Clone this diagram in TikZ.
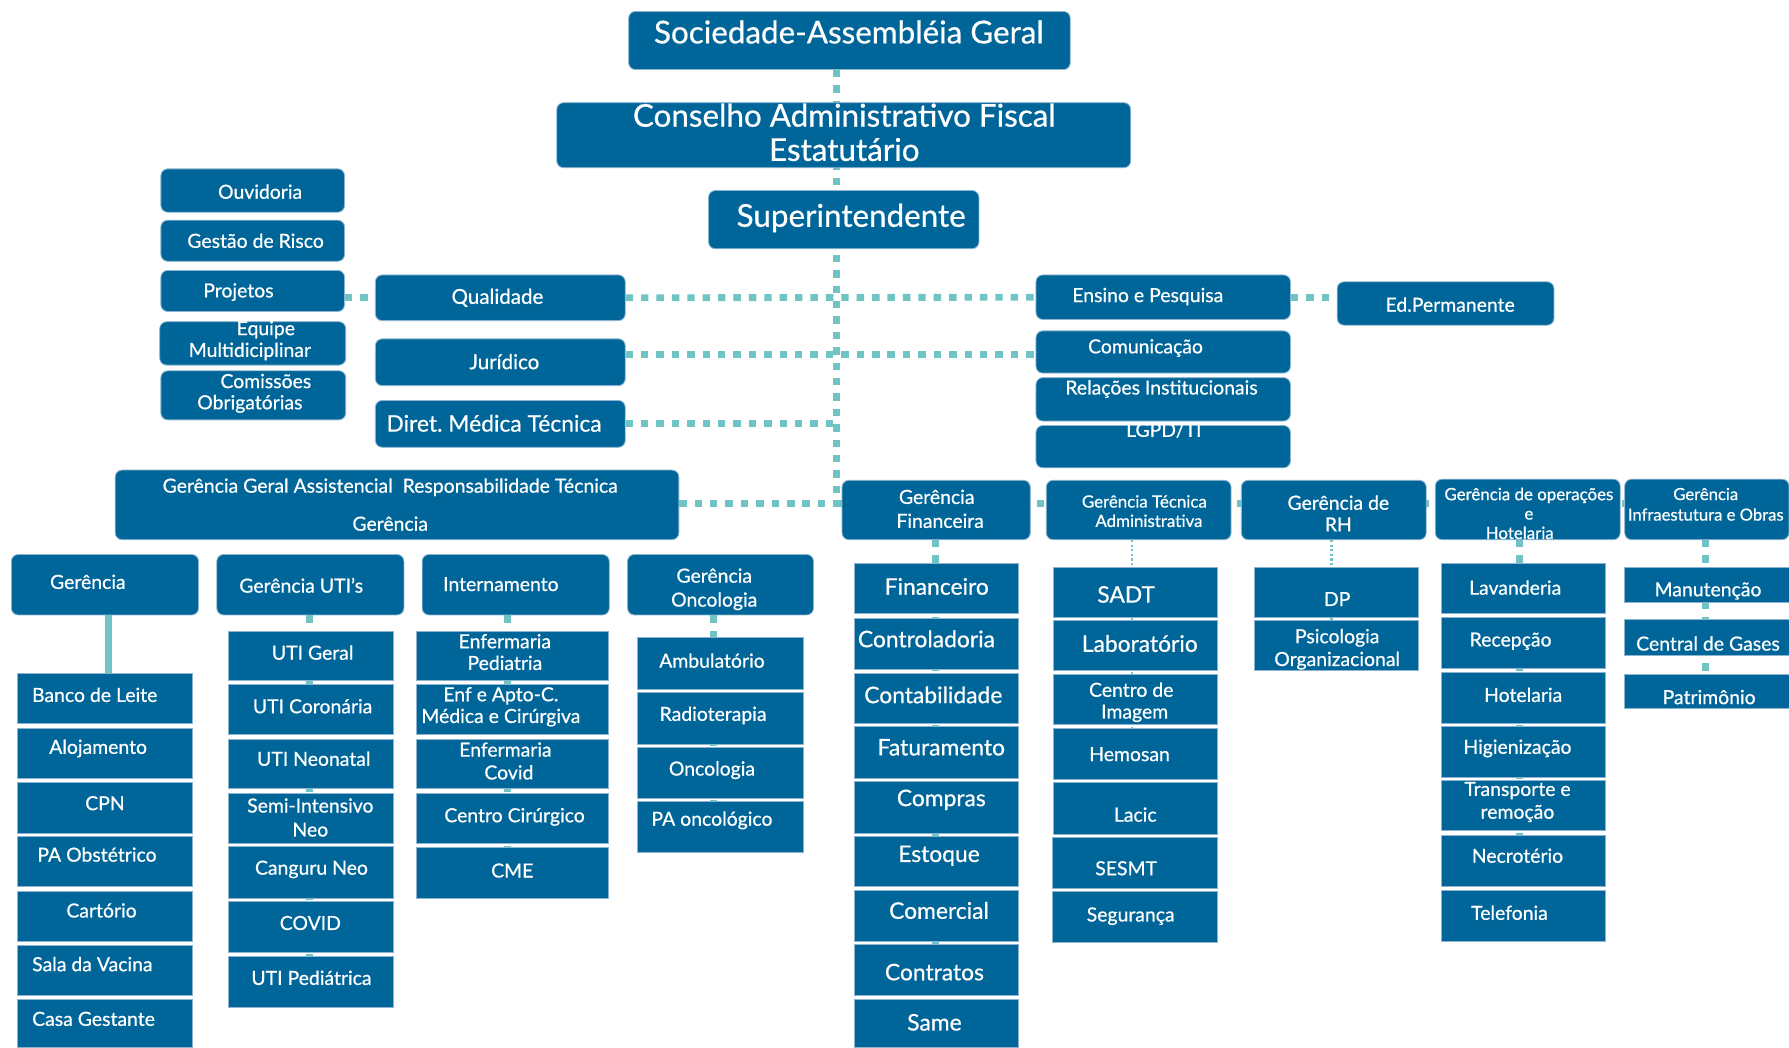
\documentclass[tikz,border=0pt]{standalone}
\usepackage{fontspec}
\setmainfont{Lato}[FakeBold=0.6]
\usetikzlibrary{fit}
\frenchspacing
\definecolor{boxblue}{RGB}{0,102,154}
\definecolor{tealc}{RGB}{111,196,198}
\definecolor{edgec}{RGB}{140,180,208}
\pgfdeclarelayer{back}
\pgfdeclarelayer{bg}
\pgfsetlayers{back,bg,main}
\newcommand\fs[2]{\fontsize{#1}{#2}\selectfont}
\tikzset{
 rbox/.style={fill=boxblue, draw=edgec, line width=0.7pt, rounded corners=6pt, inner sep=0pt},
 sbox/.style={fill=boxblue, draw=edgec, line width=0.7pt, inner sep=0pt},
 txt/.style={text=white, inner sep=0pt, align=center, font=\fs{17}{20}},
 ta/.style={font=\fs{14.8}{17}},
 tb/.style={font=\fs{17}{20}},
 tc/.style={font=\fs{18}{21}},
 td/.style={font=\fs{20}{22}},
 te/.style={font=\fs{27.5}{30}},
 dots/.style={draw=tealc, line width=6pt, dash pattern=on 6.5pt off 7pt},
 finedots/.style={draw=tealc, line width=2pt, dash pattern=on 2pt off 2pt},
 solidc/.style={draw=tealc, line width=6pt},
}
\newcommand\bx[4]{\node[#1, fit={(#3) (#4)}] (#2) {};}
\newcommand\tx[4][]{\node[txt,#1] (#2) at (#3) {#4};}
\begin{document}
\begin{tikzpicture}[x=1pt,y=-1pt]
\useasboundingbox (0,0) rectangle (1568,917.7);
\begin{pgfonlayer}{back}
\fill[white] (0,0) rectangle (1568,917.7);
\end{pgfonlayer}
% ---------- top ----------
\bx{rbox}{soc}{551,10}{938,61}
\tx[te]{soct}{744,28}{Sociedade-Assembléia Geral}
\bx{rbox}{cons}{488,90}{991,147}
\tx[font=\fs{27.5}{30}]{const}{740,116}{Conselho Administrativo Fiscal\\Estatutário}
\bx{rbox}{sup}{621,167}{858,218}
\tx[te]{supt}{746,191}{Superintendente}
% ---------- left small ----------
\bx{rbox}{ouv}{141,148}{302,186}
\tx{ouvt}{228,168}{Ouvidoria}
\bx{rbox}{ges}{141,193}{302,229}
\tx{gest}{224,211}{Gestão de Risco}
\bx{rbox}{proj}{141,237}{302,273}
\tx{projt}{209,256}{Projetos}
\bx{rbox}{equ}{140,282}{303,320}
\tx{equta}{233,289}{Equipe}
\tx{equtb}{219,308}{Multidiciplinar}
\bx{rbox}{comi}{141,325}{303,368}
\tx{comita}{233,334}{Comissões}
\tx{comitb}{219,354}{Obrigatórias}
% ---------- middle ----------
\bx{rbox}{qual}{329,241}{548,281}
\tx[tc]{qualt}{436,261}{Qualidade}
\bx{rbox}{jur}{329,297}{548,338}
\tx[tc]{jurt}{442,317}{Jurídico}
\bx{rbox}{dir}{329,351}{548,392}
\tx[td]{dirt}{433,371}{Diret. Médica Técnica}
% ---------- right ----------
\bx{rbox}{ens}{908,241}{1131,280}
\tx{enst}{1006,260}{Ensino e Pesquisa}
\bx{rbox}{edp}{1172,247}{1362,285}
\tx{edpt}{1271,267}{Ed.Permanente}
\bx{rbox}{com}{908,290}{1131,327}
\tx{comt}{1004,305}{Comunicação}
\bx{rbox}{rel}{908,331}{1131,369}
\tx{relt}{1018,341}{Relações Institucionais}
\bx{rbox}{lgpd}{908,373}{1131,410}
\tx{lgpdt}{1020,377}{LGPD/TI}
% ---------- managers ----------
\bx{rbox}{gga}{101,412}{595,473}
\tx{ggata}{342,427}{Gerência Geral Assistencial\ \ Responsabilidade Técnica}
\tx{ggatb}{342,459}{Gerência}
\bx{rbox}{gfin}{738,421}{903,473}
\tx[font=\fs{17}{21}]{gfint}{821,446}{Gerência\\\hspace*{6pt}Financeira}
\bx{rbox}{gtec}{917,421}{1079,473}
\tx[font=\fs{14.8}{17}]{gtect}{1003,448}{Gerência Técnica\\\hspace*{8pt}Administrativa}
\bx{rbox}{grh}{1088,421}{1250,473}
\tx[font=\fs{17}{19}]{grht}{1173,450}{Gerência de\\RH}
\bx{rbox}{gop}{1258,420}{1420,473}
\tx[font=\fs{14.8}{17}]{gopt}{1340,450}{Gerência de operações\\e\\Hotelaria\hspace*{16pt}}
\bx{rbox}{ginf}{1424,420}{1568,473}
\tx[font=\fs{14.6}{18}]{ginft}{1495,442}{Gerência\\Infraestutura e Obras}
\bx{rbox}{ger}{10,486}{174,539}
\tx{gert}{77,510}{Gerência}
\bx{rbox}{guti}{190,486}{354,539}
\tx{gutit}{264,513}{Gerência UTI’s}
\bx{rbox}{gint}{370,486}{534,539}
\tx{gintt}{439,512}{Internamento}
\bx{rbox}{gonc}{550,486}{713,539}
\tx[font=\fs{17}{21}]{gonct}{626,516.5}{Gerência\\Oncologia}
% ---------- column 1 ----------
\bx{sbox}{banco}{15,590}{169,634}
\tx{bancot}{83,609}{Banco de Leite}
\bx{sbox}{aloj}{15,638}{169,682}
\tx{alojt}{86,656}{Alojamento}
\bx{sbox}{cpn}{15,686}{169,730}
\tx{cpnt}{92,704}{CPN}
\bx{sbox}{pao}{15,733}{169,777}
\tx{paot}{85,749}{PA Obstétrico}
\bx{sbox}{cart}{15,781}{169,825}
\tx{cartt}{89,798}{Cartório}
\bx{sbox}{sala}{15,829}{169,872}
\tx{salat}{81,845}{Sala da Vacina}
\bx{sbox}{casa}{15,876}{169,918}
\tx{casat}{82,893}{Casa Gestante}
% ---------- column 2 ----------
\bx{sbox}{utig}{200,553}{345,596}
\tx{utigt}{274,572}{UTI Geral}
\bx{sbox}{utic}{200,600}{345,644}
\tx{utict}{274,619}{UTI Coronária}
\bx{sbox}{utin}{200,648}{345,691}
\tx{utint}{275,665}{UTI Neonatal}
\bx{sbox}{semi}{200,695}{345,739}
\tx[font=\fs{17}{21}]{semit}{272,716.5}{Semi-Intensivo\\Neo}
\bx{sbox}{cang}{200,742}{345,787}
\tx{cangt}{273,762}{Canguru Neo}
\bx{sbox}{covid}{200,790}{345,835}
\tx{covidt}{272,809}{COVID}
\bx{sbox}{utip}{200,838}{345,883}
\tx{utipt}{273,857}{UTI Pediátrica}
% ---------- column 3 ----------
\bx{sbox}{enfp}{365,553}{533,596}
\tx[font=\fs{17}{19}]{enfpt}{442.5,571.5}{Enfermaria\\Pediatria}
\bx{sbox}{enfa}{365,600}{533,644}
\tx[font=\fs{17}{19}]{enfat}{439,619.5}{Enf e Apto-C.\\Médica e Cirúrgiva}
\bx{sbox}{enfc}{365,648}{533,691}
\tx[font=\fs{17}{20}]{enfct}{443,667}{Enfermaria\\\hspace*{6pt}Covid}
\bx{sbox}{cc}{365,695}{533,739}
\tx{cct}{451,716}{Centro Cirúrgico}
\bx{sbox}{cme}{365,743}{533,787}
\tx{cmet}{449,763}{CME}
% ---------- column 4 ----------
\bx{sbox}{amb}{559,559}{704,604}
\tx{ambt}{624,579}{Ambulatório}
\bx{sbox}{rad}{559,607}{704,652}
\tx{radt}{625,627}{Radioterapia}
\bx{sbox}{onc}{559,655}{704,700}
\tx{onct}{624,675}{Oncologia}
\bx{sbox}{paon}{559,702}{704,747}
\tx{paont}{624,719}{PA oncológico}
% ---------- financeira ----------
\bx{sbox}{finan}{749,494}{893,538}
\tx[td]{finant}{821,514}{Financeiro}
\bx{sbox}{contr}{749,542}{893,587}
\tx[td]{contrt}{812,560}{Controladoria}
\bx{sbox}{contab}{749,590}{893,634}
\tx[td]{contabt}{818,609}{Contabilidade}
\bx{sbox}{fat}{749,637}{893,682}
\tx[td]{fatt}{825,655}{Faturamento}
\bx{sbox}{comp}{749,685}{893,730}
\tx[td]{compt}{825,701}{Compras}
\bx{sbox}{est}{749,733}{893,777}
\tx[td]{estt}{823,750}{Estoque}
\bx{sbox}{comer}{749,780}{893,825}
\tx[td]{comert}{823,798}{Comercial}
\bx{sbox}{contra}{749,828}{893,872}
\tx[td]{contrat}{819,852}{Contratos}
\bx{sbox}{same}{749,876}{893,918}
\tx[td]{samet}{819,896}{Same}
% ---------- tecnica ----------
\bx{sbox}{sadt}{923,497}{1067,541}
\tx[td]{sadtt}{987,521}{SADT}
\bx{sbox}{lab}{923,544}{1067,588}
\tx[td]{labt}{999,564}{Laboratório}
\bx{sbox}{cimg}{923,591}{1067,635}
\tx[font=\fs{17}{19}]{cimgt}{991.5,615.5}{Centro de\\\hspace*{6pt}Imagem}
\bx{sbox}{hemo}{923,638}{1067,683}
\tx{hemot}{990,661}{Hemosan}
\bx{sbox}{lacic}{923,686}{1067,731}
\tx{lacict}{995,714}{Lacic}
\bx{sbox}{sesmt}{922,734}{1067,779}
\tx{sesmtt}{987,761}{SESMT}
\bx{sbox}{seg}{922,781}{1067,826}
\tx{segt}{991,803}{Segurança}
% ---------- RH ----------
\bx{sbox}{dp}{1099,497}{1243,541}
\tx{dpt}{1172,525}{DP}
\bx{sbox}{psi}{1099,544}{1243,588}
\tx[font=\fs{17}{20}]{psit}{1172,569}{Psicologia\\Organizacional}
% ---------- operacoes ----------
\bx{sbox}{lav}{1263,494}{1407,538}
\tx{lavt}{1328,515}{Lavanderia}
\bx{sbox}{rec}{1263,541}{1407,586}
\tx{rect}{1324,562}{Recepção}
\bx{sbox}{hot}{1263,589}{1407,634}
\tx{hott}{1335,609}{Hotelaria}
\bx{sbox}{hig}{1263,637}{1407,681}
\tx{higt}{1330,656}{Higienização}
\bx{sbox}{trans}{1263,684}{1407,728}
\tx[font=\fs{17}{20}]{transt}{1330,703}{Transporte e\\remoção}
\bx{sbox}{necro}{1263,732}{1407,777}
\tx{necrot}{1330,750}{Necrotério}
\bx{sbox}{tel}{1263,780}{1407,825}
\tx{telt}{1323,800}{Telefonia}
% ---------- infra ----------
\bx{sbox}{man}{1424,497}{1568,528}
\tx{mant}{1497,518}{Manutenção}
\bx{sbox}{cgas}{1424,543}{1568,574}
\tx{cgast}{1497,564}{Central de Gases}
\bx{sbox}{pat}{1424,591}{1568,621}
\tx{patt}{1498,611}{Patrimônio}
% ---------- connectors ----------
\begin{pgfonlayer}{bg}
\coordinate (jn) at (733,441);
\draw[dots] (jn |- soc.south) -- (jn);
\draw[dots] (proj.east |- qual.west) -- (qual.west);
\draw[dots] (qual.east) -- (ens.west);
\draw[dots] (jur.east |- 0,311) -- (com.west |- 0,311);
\draw[dots] (dir.east) -- (dir.east -| jn);
\draw[dots] (ens.east) -- (ens.east -| edp.west);
\draw[dots] (gga.east |- jn) -- (jn);
\draw[dots] (jn) -- (ginf.west |- jn);
\draw[solidc] (ger.south -| 95,0) -- (banco.north -| 95,0);
\draw[dots] (guti.south -| 271,0) -- (utip.south -| 271,0);
\draw[dots] (gint.south -| 445,0) -- (cme.south -| 445,0);
\draw[dots] (gonc.south -| 625,0) -- (paon.south -| 625,0);
\draw[dots] (gfin.south -| 820,0) -- (same.south -| 820,0);
\draw[finedots] (gtec.south -| 992,0) -- (seg.south -| 992,0);
\draw[finedots] (grh.south -| 1167,0) -- (psi.south -| 1167,0);
\draw[dots] (gop.south -| 1332,0) -- (tel.south -| 1332,0);
\draw[dots] (ginf.south -| 1495,0) -- (pat.south -| 1495,0);
\end{pgfonlayer}
\end{tikzpicture}
\end{document}
